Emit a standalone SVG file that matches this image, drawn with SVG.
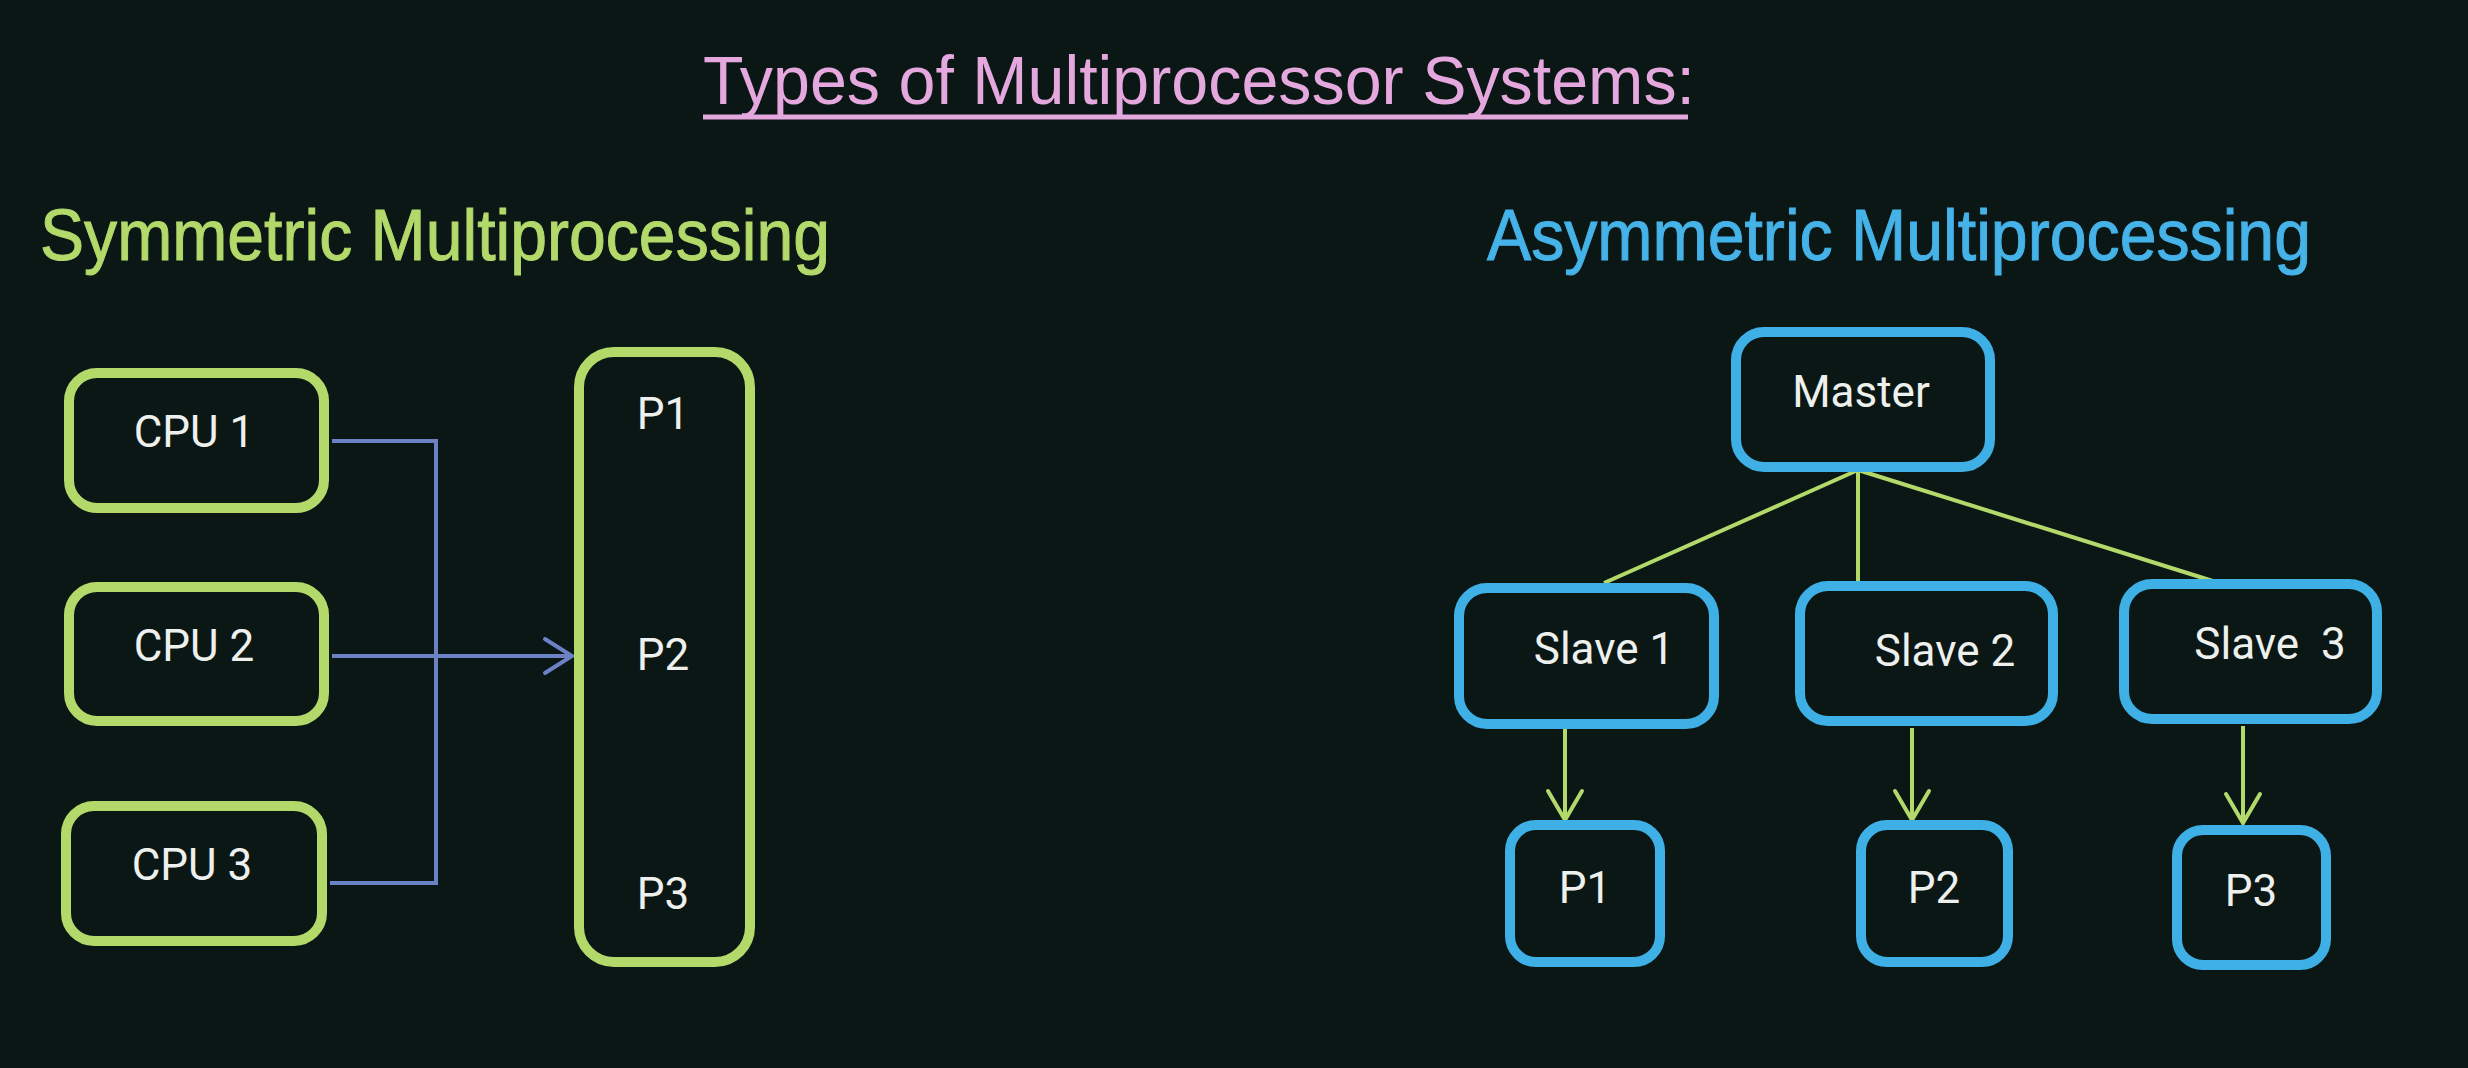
<svg xmlns="http://www.w3.org/2000/svg" width="2468" height="1068" viewBox="0 0 2468 1068">
<style>
.g{fill:none;stroke:#b3d96b;stroke-width:10}
.b{fill:none;stroke:#3eb0e6;stroke-width:10}
.t{font-family:Roboto,"Liberation Sans",sans-serif;font-size:44px;fill:#eef0ee;text-anchor:middle}
.h{font-family:"Liberation Sans",Arial,sans-serif}
.cb{fill:none;stroke:#6b82c4;stroke-width:4}
.cg{fill:none;stroke:#b3d96b;stroke-width:4}
</style>
<defs>
<marker id="ab" markerUnits="userSpaceOnUse" markerWidth="40" markerHeight="40" viewBox="-30 -20 34 40" refX="0" refY="0" orient="auto">
<path d="M-27,-17 L0,0 L-27,17" fill="none" stroke="#6b82c4" stroke-width="4" stroke-linecap="round"/>
</marker>
<marker id="ag" markerUnits="userSpaceOnUse" markerWidth="40" markerHeight="40" viewBox="-32 -20 36 40" refX="0" refY="0" orient="auto">
<path d="M-29,-17 L0,0 L-29,17" fill="none" stroke="#b3d96b" stroke-width="4" stroke-linecap="round"/>
</marker>
</defs>
<rect width="2468" height="1068" fill="#0a1715"/>
<g id="title">
<text x="703" y="104" class="h" font-size="68" fill="#e4a8de" textLength="992" lengthAdjust="spacingAndGlyphs">Types of Multiprocessor Systems:</text>
<line x1="703" y1="117" x2="1688" y2="117" stroke="#e4a8de" stroke-width="5"/>
</g>
<g id="heading-symmetric">
<text x="40" y="260" class="h" font-size="72" fill="#b3d96b" stroke="#b3d96b" stroke-width="1" textLength="790" lengthAdjust="spacingAndGlyphs">Symmetric Multiprocessing</text>
</g>
<g id="heading-asymmetric">
<text x="1487" y="260" class="h" font-size="72" fill="#45b2e8" stroke="#45b2e8" stroke-width="1" textLength="824" lengthAdjust="spacingAndGlyphs">Asymmetric Multiprocessing</text>
</g>
<g id="connectors">
<path class="cb" d="M332,441 H436 V883 H330"/>
<path class="cb" d="M332,656 H572" marker-end="url(#ab)"/>
<path class="cg" d="M1858,470 L1604,583"/>
<path class="cg" d="M1858,470 V586"/>
<path class="cg" d="M1858,470 L2216,582"/>
<path class="cg" d="M1565,728 V820" marker-end="url(#ag)"/>
<path class="cg" d="M1912,728 V820" marker-end="url(#ag)"/>
<path class="cg" d="M2243,726 V823" marker-end="url(#ag)"/>
</g>
<g id="cpu1"><rect class="g" x="69" y="373" width="255" height="135" rx="28"/><text class="t" x="194" y="447">CPU 1</text></g>
<g id="cpu2"><rect class="g" x="69" y="587" width="255" height="134" rx="28"/><text class="t" x="194" y="661">CPU 2</text></g>
<g id="cpu3"><rect class="g" x="66" y="806" width="256" height="135" rx="28"/><text class="t" x="192" y="880">CPU 3</text></g>
<g id="processes"><rect class="g" x="579" y="352" width="171" height="610" rx="35"/>
<text class="t" x="663" y="429">P1</text><text class="t" x="663" y="670">P2</text><text class="t" x="663" y="909">P3</text></g>
<g id="master"><rect class="b" x="1736" y="332" width="254" height="135" rx="28"/><text class="t" x="1861" y="407">Master</text></g>
<g id="slave1"><rect class="b" x="1459" y="588" width="255" height="136" rx="28"/><text class="t" x="1604" y="664">Slave 1</text></g>
<g id="slave2"><rect class="b" x="1800" y="586" width="253" height="135" rx="28"/><text class="t" x="1945" y="666">Slave 2</text></g>
<g id="slave3"><rect class="b" x="2124" y="584" width="253" height="135" rx="28"/><text class="t" x="2270" y="659" xml:space="preserve">Slave  3</text></g>
<g id="p1"><rect class="b" x="1510" y="825" width="150" height="137" rx="26"/><text class="t" x="1585" y="903">P1</text></g>
<g id="p2"><rect class="b" x="1861" y="825" width="147" height="137" rx="26"/><text class="t" x="1934" y="903">P2</text></g>
<g id="p3"><rect class="b" x="2177" y="830" width="149" height="135" rx="26"/><text class="t" x="2251" y="906">P3</text></g>
</svg>
